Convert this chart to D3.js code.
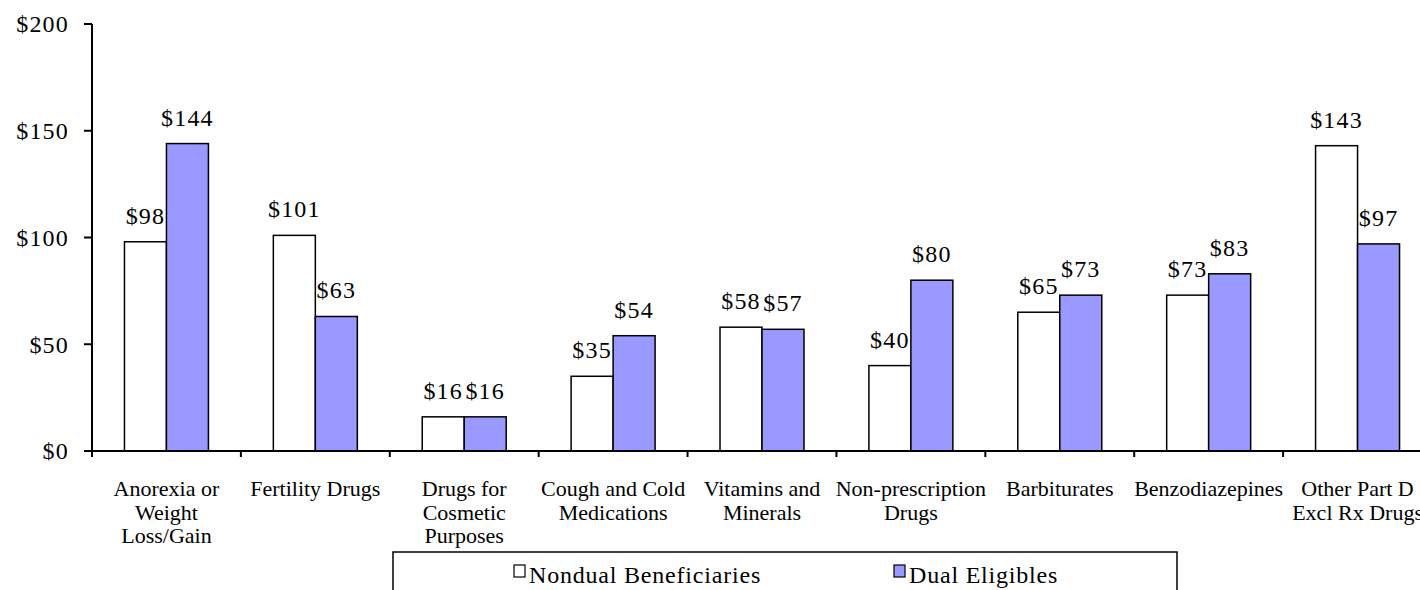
<!DOCTYPE html>
<html>
<head>
<meta charset="UTF-8">
<title>Part D excluded drugs</title>
<style>
    body { margin: 0; background: #fff; }
    svg text { font-family: "Liberation Serif", "Times New Roman", Times, serif; fill: #000; }
    .bar { stroke: #000; stroke-width: 1.5px; }
    .axis-line { stroke: #000; stroke-width: 2px; fill: none; }
</style>
</head>
<body>
<svg width="1420" height="590"></svg>
<script src="https://cdnjs.cloudflare.com/ajax/libs/d3/7.8.5/d3.min.js"></script>
<script>
    // categories (label lines)
    var categories = [
        ["Anorexia or", "Weight", "Loss/Gain"],
        ["Fertility Drugs"],
        ["Drugs for", "Cosmetic", "Purposes"],
        ["Cough and Cold", "Medications"],
        ["Vitamins and", "Minerals"],
        ["Non-prescription", "Drugs"],
        ["Barbiturates"],
        ["Benzodiazepines"],
        ["Other Part D", "Excl Rx Drugs"]
    ];
    var seriesNames = ["Nondual Beneficiaries", "Dual Eligibles"];
    var nondual = [98, 101, 16, 35, 58, 40, 65, 73, 143];
    var dual = [144, 63, 16, 54, 57, 80, 73, 83, 97];
    var yTicks = [0, 50, 100, 150, 200];
    var colors = ["#ffffff", "#9999ff"];

    var serif = "'Liberation Serif', 'Times New Roman', serif";
    var svg = d3.select("svg");
    // plot area (right edge runs past the picture, as in the source)
    var plotLeft = 92, plotRight = 1432, plotTop = 24, plotBottom = 451;

    var keys = categories.map(function (d, i) { return i; });
    var x0 = d3.scaleBand().domain(keys).range([plotLeft, plotRight])
        .paddingInner(0.436).paddingOuter(0.218);
    var x1 = d3.scaleBand().domain([0, 1]).range([0, x0.bandwidth()]);
    var y = d3.scaleLinear().domain([0, 200]).range([plotBottom, plotTop]);
    var step = x0.step();

    var rows = keys.map(function (i) { return [nondual[i], dual[i]]; });

    // bars
    var groups = svg.append("g").selectAll("g")
        .data(rows).enter().append("g")
        .attr("transform", function (d, i) { return "translate(" + x0(i) + ",0)"; });

    groups.selectAll("rect")
        .data(function (d) { return d; })
        .enter().append("rect")
        .attr("class", "bar")
        .attr("x", function (d, j) { return x1(j); })
        .attr("y", function (d) { return y(d); })
        .attr("width", x1.bandwidth())
        .attr("height", function (d) { return plotBottom - y(d); })
        .attr("fill", function (d, j) { return colors[j]; });

    groups.selectAll("text.val")
        .data(function (d) { return d; })
        .enter().append("text")
        .attr("class", "val")
        .attr("x", function (d, j) { return x1(j) + x1.bandwidth() / 2; })
        .attr("y", function (d) { return y(d) - 18; })
        .attr("text-anchor", "middle")
        .attr("font-family", serif)
        .attr("font-size", 24)
        .attr("letter-spacing", 1.2)
        .text(function (d) { return "$" + d; });

    // y axis
    var yAxis = svg.append("g");
    yAxis.append("line").attr("class", "axis-line")
        .attr("x1", plotLeft).attr("x2", plotLeft).attr("y1", y(200)).attr("y2", y(0));
    yAxis.selectAll("line.tick").data(yTicks).enter().append("line")
        .attr("class", "axis-line")
        .attr("x1", plotLeft - 8).attr("x2", plotLeft)
        .attr("y1", function (d) { return y(d); }).attr("y2", function (d) { return y(d); });
    yAxis.selectAll("text").data(yTicks).enter().append("text")
        .attr("x", 69).attr("y", function (d) { return y(d); })
        .attr("dy", "0.35em")
        .attr("text-anchor", "end")
        .attr("font-family", serif)
        .attr("font-size", 24)
        .attr("letter-spacing", 1.2)
        .text(function (d) { return "$" + d; });

    // x axis
    var xAxis = svg.append("g");
    xAxis.append("line").attr("class", "axis-line")
        .attr("x1", plotLeft - 8).attr("x2", plotRight).attr("y1", plotBottom).attr("y2", plotBottom);
    xAxis.selectAll("line.tick").data(d3.range(categories.length + 1)).enter().append("line")
        .attr("class", "axis-line")
        .attr("x1", function (i) { return plotLeft + i * step; })
        .attr("x2", function (i) { return plotLeft + i * step; })
        .attr("y1", plotBottom).attr("y2", plotBottom + 6);

    var catText = xAxis.selectAll("text").data(categories).enter().append("text")
        .attr("x", function (d, i) { return x0(i) + x0.bandwidth() / 2; })
        .attr("y", 496)
        .attr("text-anchor", "middle")
        .attr("font-family", serif)
        .attr("font-size", 22);
    catText.selectAll("tspan").data(function (d) { return d; }).enter().append("tspan")
        .attr("x", function () { return d3.select(this.parentNode).attr("x"); })
        .attr("dy", function (d, k) { return k === 0 ? 0 : 23.5; })
        .text(function (d) { return d; });

    // legend
    var legend = svg.append("g");
    legend.append("rect")
        .attr("x", 393).attr("y", 552).attr("width", 784).attr("height", 60)
        .attr("fill", "#fff").attr("stroke", "#000").attr("stroke-width", 1.5);
    var legendX = [514, 894];
    var items = legend.selectAll("g.item").data(seriesNames).enter().append("g")
        .attr("transform", function (d, i) { return "translate(" + legendX[i] + ",0)"; });
    items.append("rect")
        .attr("x", 0).attr("y", 565).attr("width", 11).attr("height", 12)
        .attr("fill", function (d, i) { return colors[i]; })
        .attr("stroke", "#000").attr("stroke-width", 1.2);
    items.append("text")
        .attr("x", 15).attr("y", 583)
        .attr("font-family", serif)
        .attr("font-size", 24)
        .attr("letter-spacing", 0.8)
        .text(function (d) { return d; });
</script>
</body>
</html>
